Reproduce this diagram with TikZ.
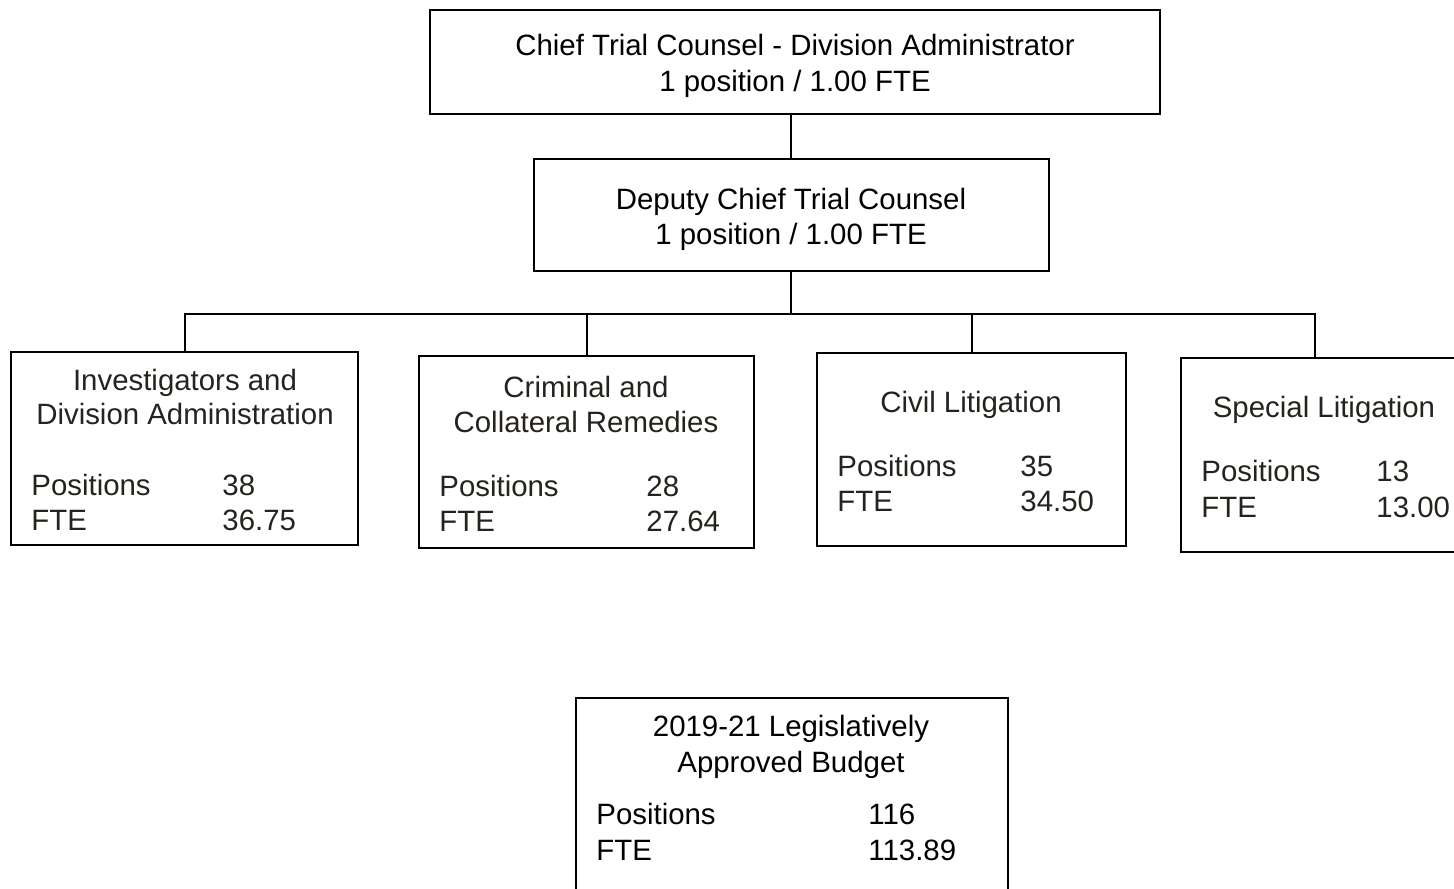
\documentclass[tikz,border=0pt]{standalone}
\usepackage{fontspec}
\setmainfont{Liberation Sans}
\usetikzlibrary{fit}
\definecolor{ink}{RGB}{38,35,31}
\begin{document}
\begin{tikzpicture}[x=0.5pt,y=-0.5pt,
  box/.style={draw, line width=1pt, inner sep=0pt},
  wire/.style={line width=1pt},
  txt/.style={anchor=base, inner sep=0pt, font=\fontsize{14.7}{17.5}\selectfont, text=ink},
  lbl/.style={txt, anchor=base west},
  dark/.style={text=black}]
\useasboundingbox (0,0) rectangle (1454,888);
\clip (0,0) rectangle (1454,888);
% boxes
\node[box, fit={(430,10) (1160,114)}] (top) {};
\node[box, fit={(534,159) (1049,271)}] (dep) {};
\node[box, fit={(11,352) (358,545)}] (b1) {};
\node[box, fit={(419,356) (754,548)}] (b2) {};
\node[box, fit={(817,353) (1126,546)}] (b3) {};
\node[box, fit={(1181,358) (1470,552)}] (b4) {};
\node[box, fit={(576,698) (1008,900)}] (bud) {};
% connectors
\coordinate (j) at (791,314);
\draw[wire] (top.south -| j) -- (dep.north -| j);
\draw[wire] (dep.south -| j) -- (j);
\draw[wire] (b1.north) |- (j);
\draw[wire] (b2.north) |- (j);
\draw[wire] (b3.north) |- (j);
\draw[wire] ([xshift=-5.25pt]b4.north) |- (j);
% texts
\node[txt,dark] (t1) at (795,56) {Chief Trial Counsel - Division Administrator};
\node[txt,dark] (t2) at (795,91) {1 position / 1.00 FTE};
\node[txt,dark] (d1) at (791,209) {Deputy Chief Trial Counsel};
\node[txt,dark] (d2) at (791,244) {1 position / 1.00 FTE};

\node[txt] (a1) at (185,390) {Investigators and};
\node[txt] (a2) at (185,424) {Division Administration};
\node[lbl] (a3) at (31,495) {Positions};
\node[lbl] (a4) at (222,495) {38};
\node[lbl] (a5) at (31,530) {FTE};
\node[lbl] (a6) at (222,530) {36.75};

\node[txt] (c1) at (586,397) {Criminal and};
\node[txt] (c2) at (586,432) {Collateral Remedies};
\node[lbl] (c3) at (439,496) {Positions};
\node[lbl] (c4) at (646,496) {28};
\node[lbl] (c5) at (439,531) {FTE};
\node[lbl] (c6) at (646,531) {27.64};

\node[txt] (v1) at (971,412) {Civil Litigation};
\node[lbl] (v3) at (837,476) {Positions};
\node[lbl] (v4) at (1020,476) {35};
\node[lbl] (v5) at (837,511) {FTE};
\node[lbl] (v6) at (1020,511) {34.50};

\node[txt] (s1) at (1324,417) {Special Litigation};
\node[lbl] (s3) at (1201,481) {Positions};
\node[lbl] (s4) at (1376,481) {13};
\node[lbl] (s5) at (1201,517) {FTE};
\node[lbl] (s6) at (1376,517) {13.00};

\node[txt,dark] (u1) at (791,736) {2019-21 Legislatively};
\node[txt,dark] (u2) at (791,772) {Approved Budget};
\node[lbl,dark] (u3) at (596,824) {Positions};
\node[lbl,dark] (u4) at (868,824) {116};
\node[lbl,dark] (u5) at (596,860) {FTE};
\node[lbl,dark] (u6) at (868,860) {113.89};
\end{tikzpicture}
\end{document}
